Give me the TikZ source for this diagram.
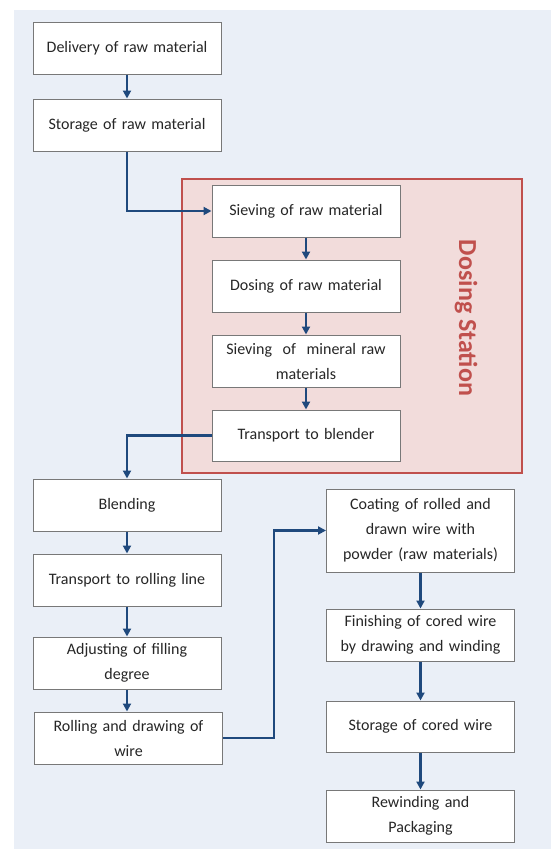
\documentclass[tikz,border=0pt]{standalone}
\usepackage{fontspec}
\setmainfont{Carlito}
\usetikzlibrary{arrows.meta}
\definecolor{panel}{RGB}{234,239,247}
\definecolor{boxline}{RGB}{120,120,120}
\definecolor{flow}{RGB}{31,73,125}
\definecolor{stationred}{RGB}{192,80,77}
\definecolor{stationfill}{RGB}{242,220,219}
\begin{document}
\begin{tikzpicture}[x=1pt,y=-1pt,
  stepbox/.style={draw=boxline,line width=1pt,fill=white,minimum width=188pt,
    minimum height=52pt,align=center,text width=184pt,inner sep=0pt,
    font=\fontsize{16}{25}\selectfont,text=black!85},
  flowline/.style={draw=flow,line width=2.2pt,-{Triangle[length=8pt,width=8pt]}}]
\useasboundingbox (0,0) rectangle (551,849);
\fill[panel] (14,10) rectangle (551,849);

% dosing station frame
\draw[stationred,fill=stationfill,line width=2.8pt] (182,179) rectangle (522,473);
\node[rotate=-90,text=stationred,font=\fontsize{26}{28}\selectfont\bfseries] (station) at (466,318) {Dosing Station};

% left column, upper part
\node[stepbox] (b1) at (127,48) {Delivery of raw material};
\node[stepbox] (b2) at (127,125) {Storage of raw material};

% dosing station steps
\node[stepbox] (s1) at (306,211) {Sieving of raw material};
\node[stepbox] (s2) at (306,286) {Dosing of raw material};
\node[stepbox] (s3) at (306,361) {Sieving~ of~ mineral raw\\materials};
\node[stepbox,minimum height=51pt] (s4) at (306,435.5) {Transport to blender};

% left column, lower part
\node[stepbox] (l1) at (127,505) {Blending};
\node[stepbox] (l2) at (127,580) {Transport to rolling line};
\node[stepbox] (l3) at (127,663) {Adjusting of filling\\degree};
\node[stepbox] (l4) at (128.5,738) {Rolling and drawing of\\wire};

% right column
\node[stepbox,minimum height=83pt] (r1) at (420.5,530.5) {Coating of rolled and\\drawn wire with\\powder (raw materials)};
\node[stepbox] (r2) at (420.5,635) {Finishing of cored wire\\by drawing and winding};
\node[stepbox,minimum height=51pt] (r3) at (420.5,726.5) {Storage of cored wire};
\node[stepbox] (r4) at (420.5,816) {Rewinding and\\Packaging};

\coordinate (turn) at (274,738);

% connectors
\draw[flowline] (b1) -- (b2);
\draw[flowline] (b2.south) |- (s1.west);
\draw[flowline] (s1) -- (s2);
\draw[flowline] (s2) -- (s3);
\draw[flowline] (s3) -- (s4);
\draw[flowline] (s4.west) -| (l1.north);
\draw[flowline] (l1.south) -- (l1.south |- l2.north);
\draw[flowline] (l2.south) -- (l2.south |- l3.north);
\draw[flowline] (l3.south) -- (l3.south |- l4.north);
\draw[flowline] (l4.east) -- (turn) |- (r1.west);
\draw[flowline] (r1) -- (r2);
\draw[flowline] (r2) -- (r3);
\draw[flowline] (r3) -- (r4);
\end{tikzpicture}
\end{document}
